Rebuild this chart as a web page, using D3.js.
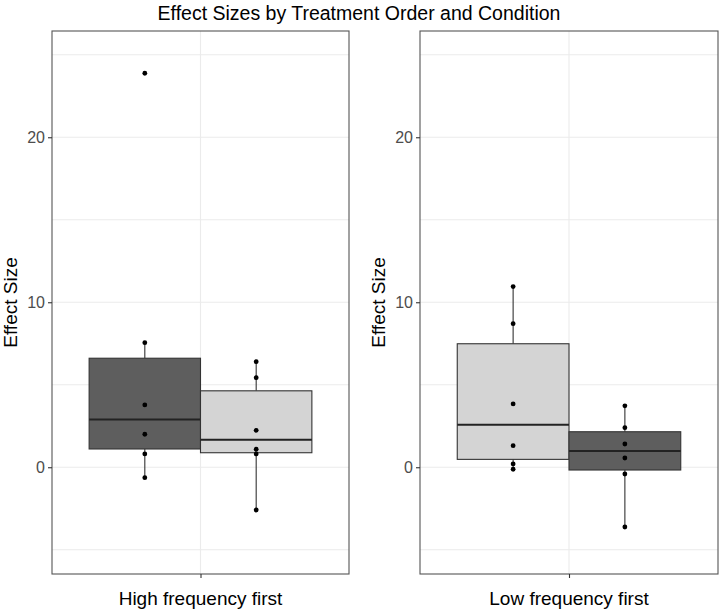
<!DOCTYPE html>
<html lang="en">
<head>
<meta charset="UTF-8">
<title>Effect Sizes</title>
<script src="https://d3js.org/d3.v7.min.js"></script>
<style>
  body { margin: 0; background: #fff; }
  text { font-family: "Liberation Sans", Arial, sans-serif; }
</style>
</head>
<body>
<div id="chart"></div>
<script>
var width = 721, height = 611;

var panels = ["High frequency first", "Low frequency first"];
var hfDark  = [23.88, 7.55, 3.78, 2.0, 0.81, -0.63];
var hfLight = [6.40, 5.43, 2.24, 1.09, 0.81, -2.59];
var lfLight = [10.95, 8.70, 3.84, 1.31, 0.20, -0.12];
var lfDark  = [3.72, 2.40, 1.41, 0.56, -0.41, -3.62];
var panelData = [[hfDark, hfLight], [lfLight, lfDark]];
var panelFills = [["dark", "light"], ["light", "dark"]];
var fills = { dark: "#5e5e5e", light: "#d4d4d4" };

var yTicks = [0, 10, 20];
var yMinor = [-5, 5, 15, 25];

var panelX = [[52, 349], [420, 718]];
var plotTop = 31, plotBottom = 574;

var svg = d3.select("#chart").append("svg")
    .attr("width", width).attr("height", height);

var y = d3.scaleLinear().domain([-6.47, 26.44]).range([plotBottom, plotTop]);

svg.append("text")
    .attr("x", 359).attr("y", 20)
    .attr("text-anchor", "middle")
    .style("font-size", "19.5px")
    .attr("fill", "#000")
    .text("Effect Sizes by Treatment Order and Condition");

function boxStats(vals) {
    var s = vals.slice().sort(d3.ascending);
    var q1 = d3.quantile(s, 0.25), med = d3.quantile(s, 0.5), q3 = d3.quantile(s, 0.75);
    var iqr = q3 - q1;
    var lo = d3.min(s.filter(function(v) { return v >= q1 - 1.5 * iqr; }));
    var hi = d3.max(s.filter(function(v) { return v <= q3 + 1.5 * iqr; }));
    return { q1: q1, med: med, q3: q3, lo: lo, hi: hi };
}

panels.forEach(function(name, p) {
    var x = d3.scaleLinear().domain([0.4, 1.6]).range(panelX[p]);
    var g = svg.append("g");
    var x0 = panelX[p][0], x1 = panelX[p][1];

    // grid
    g.selectAll(".minor").data(yMinor).enter().append("line")
        .attr("x1", x0).attr("x2", x1)
        .attr("y1", function(d) { return y(d); }).attr("y2", function(d) { return y(d); })
        .attr("stroke", "#ebebeb").attr("stroke-width", 1);
    g.selectAll(".major").data(yTicks).enter().append("line")
        .attr("x1", x0).attr("x2", x1)
        .attr("y1", function(d) { return y(d); }).attr("y2", function(d) { return y(d); })
        .attr("stroke", "#ebebeb").attr("stroke-width", 1.1);
    g.append("line")
        .attr("x1", x(1)).attr("x2", x(1)).attr("y1", plotTop).attr("y2", plotBottom)
        .attr("stroke", "#ebebeb").attr("stroke-width", 1.1);

    // boxes
    panelData[p].forEach(function(vals, k) {
        var st = boxStats(vals);
        var c = 1 + (k === 0 ? -0.225 : 0.225);
        var bl = x(c - 0.225), br = x(c + 0.225), cx = x(c);
        g.append("line").attr("x1", cx).attr("x2", cx)
            .attr("y1", y(st.q3)).attr("y2", y(st.hi))
            .attr("stroke", "#333").attr("stroke-width", 1.1);
        g.append("line").attr("x1", cx).attr("x2", cx)
            .attr("y1", y(st.q1)).attr("y2", y(st.lo))
            .attr("stroke", "#333").attr("stroke-width", 1.1);
        g.append("rect")
            .attr("x", bl).attr("y", y(st.q3))
            .attr("width", br - bl).attr("height", y(st.q1) - y(st.q3))
            .attr("fill", fills[panelFills[p][k]])
            .attr("stroke", "#333").attr("stroke-width", 1.1);
        g.append("line").attr("x1", bl).attr("x2", br)
            .attr("y1", y(st.med)).attr("y2", y(st.med))
            .attr("stroke", "#222").attr("stroke-width", 2);
        g.selectAll(".pt" + k).data(vals).enter().append("circle")
            .attr("cx", cx).attr("cy", function(d) { return y(d); })
            .attr("r", 2.4).attr("fill", "#000");
    });

    // panel border
    g.append("rect")
        .attr("x", x0).attr("y", plotTop).attr("width", x1 - x0).attr("height", plotBottom - plotTop)
        .attr("fill", "none").attr("stroke", "#555").attr("stroke-width", 1.1);

    // y axis
    var yAxis = d3.axisLeft(y).tickValues(yTicks).tickSize(4).tickPadding(3);
    var ya = svg.append("g").attr("transform", "translate(" + x0 + ",0)").call(yAxis);
    ya.select(".domain").remove();
    ya.selectAll(".tick line").attr("stroke", "#333").attr("stroke-width", 1.1);
    ya.selectAll(".tick text").attr("fill", "#4d4d4d").style("font-size", "16px")
        .style("font-family", "'Liberation Sans', Arial, sans-serif");

    // x axis
    var xAxis = d3.axisBottom(x).tickValues([1]).tickSize(4).tickFormat(function() { return ""; });
    var xa = svg.append("g").attr("transform", "translate(0," + plotBottom + ")").call(xAxis);
    xa.select(".domain").remove();
    xa.selectAll(".tick line").attr("stroke", "#333").attr("stroke-width", 1.1);

    svg.append("text")
        .attr("x", x(1)).attr("y", 605)
        .attr("text-anchor", "middle")
        .style("font-size", "19px")
        .text(name);

    svg.append("text")
        .attr("transform", "translate(" + (x0 - 35) + "," + ((plotTop + plotBottom) / 2) + ") rotate(-90)")
        .attr("text-anchor", "middle")
        .style("font-size", "19px")
        .text("Effect Size");
});
</script>
</body>
</html>
